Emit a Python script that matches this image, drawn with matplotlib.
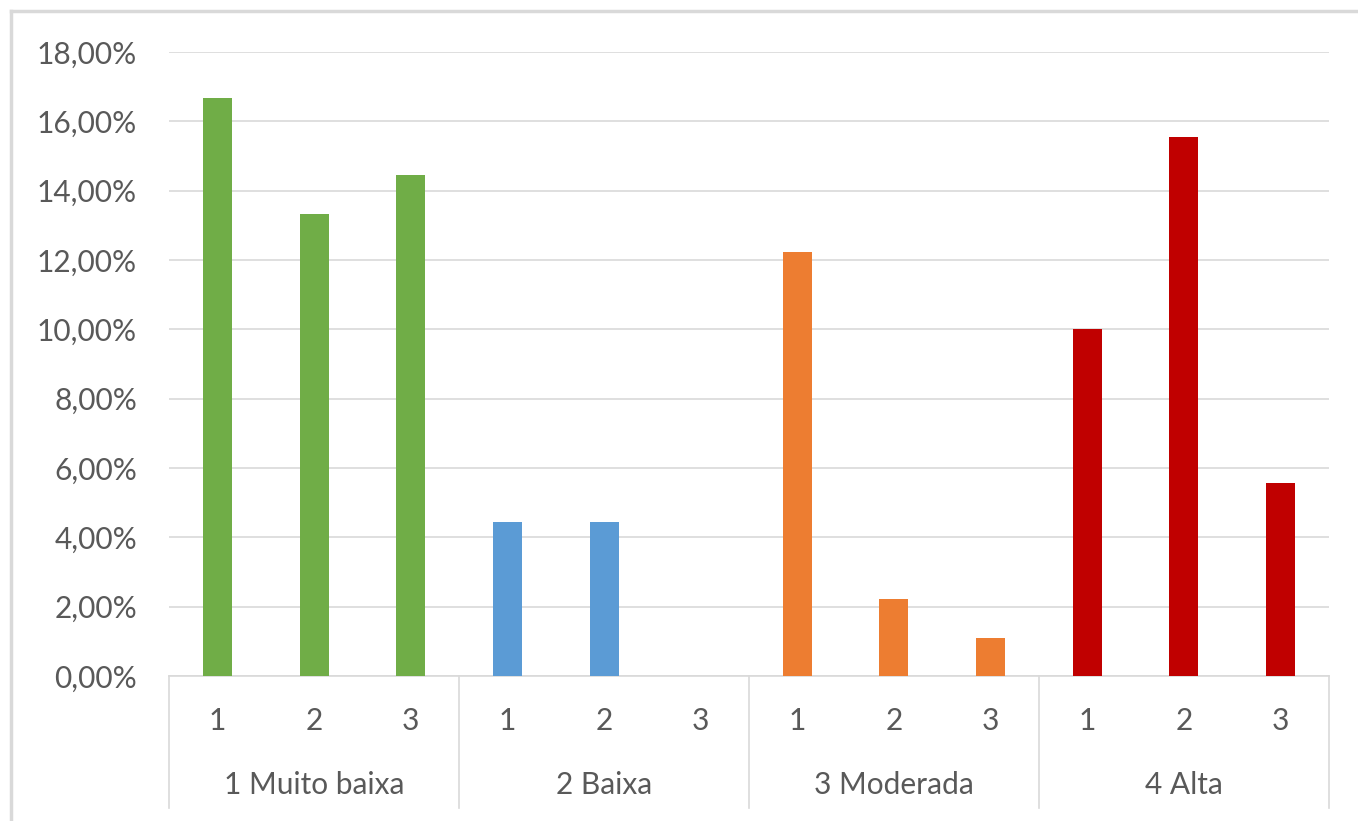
import matplotlib
matplotlib.use("Agg")
import matplotlib.pyplot as plt
import matplotlib.transforms as mtransforms
from matplotlib.lines import Line2D
from matplotlib.ticker import FuncFormatter, MultipleLocator

# dados (percentuais)
groups = ["1 Muito baixa", "2 Baixa", "3 Moderada", "4 Alta"]
sub_labels = ["1", "2", "3"]
muito_baixa = [16.67, 13.33, 14.44]
baixa = [4.44, 4.44, 0.0]
moderada = [12.22, 2.22, 1.11]
alta = [10.00, 15.56, 5.56]
series = [muito_baixa, baixa, moderada, alta]
colors = ["#70AD47", "#5B9BD5", "#ED7D31", "#C00000"]

TXT = "#595959"
GRID = "#D9D9D9"
FS = 21.5

plt.rcParams["font.family"] = ["Lato", "DejaVu Sans"]

fig = plt.figure(figsize=(13.58, 8.21), dpi=100)
ax = fig.add_axes([169 / 1358, 1 - 676 / 821, (1329 - 169) / 1358, (676 - 52) / 821])

n_sub = len(sub_labels)
for g, (vals, col) in enumerate(zip(series, colors)):
    xs = [g * n_sub + i for i in range(n_sub)]
    ax.bar(xs, vals, width=0.3, color=col, zorder=3)

ax.set_xlim(-0.5, len(groups) * n_sub - 0.5)
ax.set_ylim(0, 18)
ax.yaxis.set_major_locator(MultipleLocator(2))
ax.yaxis.set_major_formatter(FuncFormatter(lambda v, _: f"{v:.2f}%".replace(".", ",")))
ax.grid(axis="y", color=GRID, lw=1.2, zorder=0)

for s in ["top", "right", "left"]:
    ax.spines[s].set_visible(False)
ax.spines["bottom"].set_color(GRID)
ax.spines["bottom"].set_linewidth(1.2)

ax.set_xticks(range(len(groups) * n_sub))
ax.set_xticklabels(sub_labels * len(groups))
ax.tick_params(axis="x", length=0, pad=22, labelsize=FS, labelcolor=TXT)
ax.tick_params(axis="y", length=0, pad=23, labelsize=FS, labelcolor=TXT)

trans = mtransforms.blended_transform_factory(ax.transData, ax.transAxes)
for g, name in enumerate(groups):
    ax.text(g * n_sub + 1, -0.1747, name, transform=trans, ha="center", va="center",
            fontsize=FS, color=TXT)
for b in range(len(groups) + 1):
    xb = b * n_sub - 0.5
    ax.add_line(Line2D([xb, xb], [0, -0.2115], transform=trans, color=GRID, lw=1.2,
                       clip_on=False))

# moldura do gráfico (bordas superior e esquerda visíveis)
fig.add_artist(Line2D([11 / 1358, 1], [1 - 11 / 821, 1 - 11 / 821], color=GRID, lw=2.5))
fig.add_artist(Line2D([11 / 1358, 11 / 1358], [0, 1 - 11 / 821], color=GRID, lw=2.5))

fig.savefig("out.png", dpi=100)
